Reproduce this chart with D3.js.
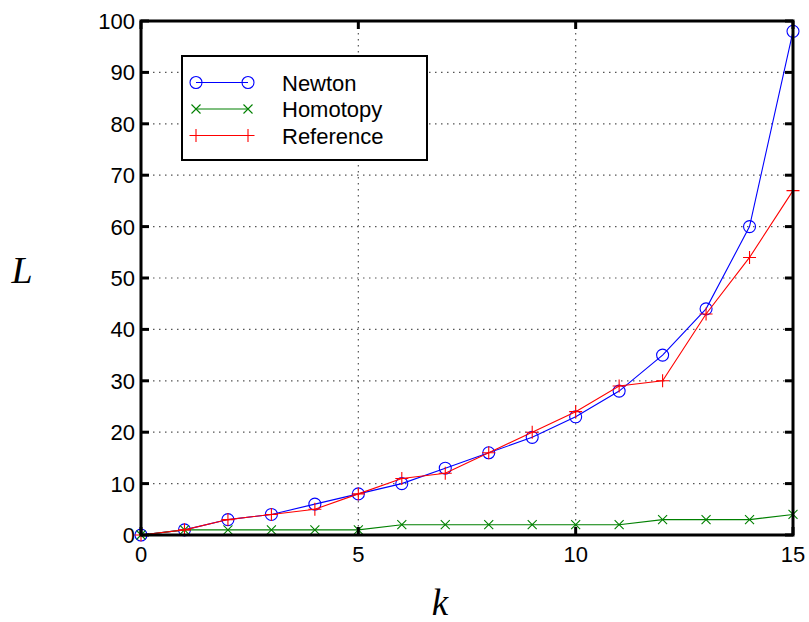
<!DOCTYPE html>
<html>
<head>
<meta charset="utf-8">
<script src="https://d3js.org/d3.v7.min.js"></script>
<style>
  body { margin: 0; background: #fff; }
  svg { display: block; }
</style>
</head>
<body>
<svg id="chart" width="809" height="622"></svg>
<script>
// Iteration counts per step k
const kValues = [0, 1, 2, 3, 4, 5, 6, 7, 8, 9, 10, 11, 12, 13, 14, 15];
const newton = [0, 1, 3, 4, 6, 8, 10, 13, 16, 19, 23, 28, 35, 44, 60, 98];
const homotopy = [0, 1, 1, 1, 1, 1, 2, 2, 2, 2, 2, 2, 3, 3, 3, 4];
const reference = [0, 1, 3, 4, 5, 8, 11, 12, 16, 20, 24, 29, 30, 43, 54, 67];
const xTicks = [0, 5, 10, 15];
const yTicks = [0, 10, 20, 30, 40, 50, 60, 70, 80, 90, 100];
const seriesNames = ["Newton", "Homotopy", "Reference"];

const svg = d3.select("#chart");
const plotLeft = 141, plotRight = 793, plotTop = 21, plotBottom = 535;

const x = d3.scaleLinear().domain([0, 15]).range([plotLeft, plotRight]);
const y = d3.scaleLinear().domain([0, 100]).range([plotBottom, plotTop]);

const font = "'Liberation Sans', Arial, Helvetica, sans-serif";

// dotted grid
const grid = svg.append("g");
grid.selectAll(".gx").data(xTicks.filter(d => d > 0 && d < 15)).join("line")
  .attr("x1", d => x(d)).attr("x2", d => x(d))
  .attr("y1", plotTop).attr("y2", plotBottom)
  .attr("stroke", "#555").attr("stroke-width", 1.2).attr("stroke-dasharray", "1.5,4.5");
grid.selectAll(".gy").data(yTicks.filter(d => d > 0 && d < 100)).join("line")
  .attr("x1", plotLeft).attr("x2", plotRight)
  .attr("y1", d => y(d)).attr("y2", d => y(d))
  .attr("stroke", "#555").attr("stroke-width", 1.2).attr("stroke-dasharray", "1.5,4.5");

// series
const series = [
  { name: seriesNames[0], values: newton, color: "#0000ff", marker: "circle" },
  { name: seriesNames[1], values: homotopy, color: "#008000", marker: "x" },
  { name: seriesNames[2], values: reference, color: "#ff0000", marker: "plus" }
];

function drawMarker(g, type, cx, cy, color) {
  if (type === "circle") {
    g.append("circle").attr("cx", cx).attr("cy", cy).attr("r", 6)
      .attr("fill", "none").attr("stroke", color).attr("stroke-width", 1.1);
  } else if (type === "x") {
    const s = 4.5;
    g.append("path").attr("d", `M${cx - s},${cy - s}L${cx + s},${cy + s}M${cx - s},${cy + s}L${cx + s},${cy - s}`)
      .attr("stroke", color).attr("stroke-width", 1.1).attr("fill", "none");
  } else {
    const s = 6.5;
    g.append("path").attr("d", `M${cx - s},${cy}L${cx + s},${cy}M${cx},${cy - s}L${cx},${cy + s}`)
      .attr("stroke", color).attr("stroke-width", 1.1).attr("fill", "none");
  }
}

const line = d3.line().x((d, i) => x(kValues[i])).y(d => y(d));
series.forEach(s => {
  const g = svg.append("g");
  g.append("path").datum(s.values).attr("d", line)
    .attr("fill", "none").attr("stroke", s.color).attr("stroke-width", 1.1);
  s.values.forEach((v, i) => drawMarker(g, s.marker, x(kValues[i]), y(v), s.color));
});

// axes with inward ticks on all sides
const tickLen = 8;
const axG = svg.append("g");
axG.selectAll(".tl").data(yTicks).join("line")
  .attr("x1", plotLeft).attr("x2", plotLeft + tickLen).attr("y1", d => y(d)).attr("y2", d => y(d))
  .attr("stroke", "#000").attr("stroke-width", 3);
axG.selectAll(".tr").data(yTicks).join("line")
  .attr("x1", plotRight).attr("x2", plotRight - tickLen).attr("y1", d => y(d)).attr("y2", d => y(d))
  .attr("stroke", "#000").attr("stroke-width", 3);
axG.selectAll(".tb").data(xTicks).join("line")
  .attr("x1", d => x(d)).attr("x2", d => x(d)).attr("y1", plotBottom).attr("y2", plotBottom - tickLen)
  .attr("stroke", "#000").attr("stroke-width", 3);
axG.selectAll(".tt").data(xTicks).join("line")
  .attr("x1", d => x(d)).attr("x2", d => x(d)).attr("y1", plotTop).attr("y2", plotTop + tickLen)
  .attr("stroke", "#000").attr("stroke-width", 3);
axG.append("rect").attr("x", plotLeft).attr("y", plotTop)
  .attr("width", plotRight - plotLeft).attr("height", plotBottom - plotTop)
  .attr("fill", "none").attr("stroke", "#000").attr("stroke-width", 3);

// tick labels
axG.selectAll(".yl").data(yTicks).join("text")
  .attr("x", plotLeft - 6).attr("y", d => y(d) + 8)
  .attr("text-anchor", "end").attr("font-family", font).attr("font-size", 22)
  .text(d => d);
axG.selectAll(".xl").data(xTicks).join("text")
  .attr("x", d => x(d)).attr("y", plotBottom + 27)
  .attr("text-anchor", "middle").attr("font-family", font).attr("font-size", 22)
  .text(d => d);

// axis titles
svg.append("text").attr("x", 22).attr("y", 283).attr("text-anchor", "middle")
  .attr("font-family", "'Liberation Serif', 'Times New Roman', serif").attr("font-style", "italic")
  .attr("font-size", 38).text("L");
svg.append("text").attr("x", 440).attr("y", 615).attr("text-anchor", "middle")
  .attr("font-family", "'Liberation Serif', 'Times New Roman', serif").attr("font-style", "italic")
  .attr("font-size", 37).text("k");

// legend
const lg = svg.append("g");
lg.append("rect").attr("x", 182).attr("y", 56).attr("width", 245).attr("height", 104)
  .attr("fill", "#fff").attr("stroke", "#000").attr("stroke-width", 2);
series.forEach((s, i) => {
  const ry = 82.5 + i * 26.5;
  lg.append("line").attr("x1", 196).attr("x2", 248).attr("y1", ry).attr("y2", ry)
    .attr("stroke", s.color).attr("stroke-width", 1.1);
  drawMarker(lg, s.marker, 196, ry, s.color);
  drawMarker(lg, s.marker, 248, ry, s.color);
  lg.append("text").attr("x", 282).attr("y", ry + 8)
    .attr("font-family", font).attr("font-size", 22).text(s.name);
});
</script>
</body>
</html>
